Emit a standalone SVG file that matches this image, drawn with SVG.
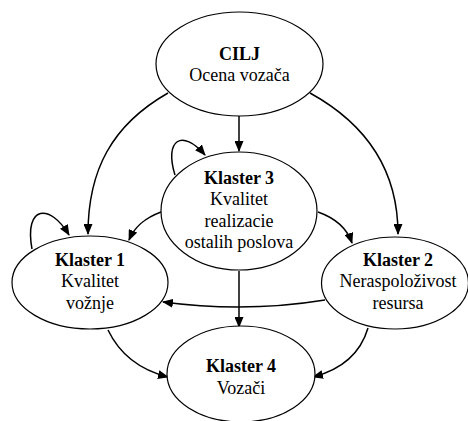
<svg xmlns="http://www.w3.org/2000/svg" width="468" height="421" viewBox="0 0 468 421">
<defs>
<marker id="ah" markerWidth="11" markerHeight="9" refX="10" refY="4.5" orient="auto" markerUnits="userSpaceOnUse">
<path d="M0,0 L11,4.5 L0,9 Z" fill="#000"/>
</marker>
<style>
.n ellipse{fill:#fff;stroke:#000;stroke-width:1.2}
.n text{font-family:"Liberation Serif","Times New Roman",serif;font-size:18px;text-anchor:middle;fill:#000}
.n .b{font-weight:bold}
.e path{fill:none;stroke:#000;stroke-width:1.5;marker-end:url(#ah)}
</style>
</defs>
<rect width="468" height="421" fill="#fff"/>
<g class="e" id="edges">
<path d="M239,116 L239,151"/>
<path d="M168,93 C112,125 88,170 88,234"/>
<path d="M310,93 C368,125 398,172 398,234"/>
<path d="M175,175 C164,140 182,128 205,155"/>
<path d="M32,249 C24,205 50,203 69,235"/>
<path d="M161,212 C145,218 135,226 129,240"/>
<path d="M318,212 C335,218 347,228 352,243"/>
<path d="M239,271 L239,327"/>
<path d="M325,300 Q245,313 163,302"/>
<path d="M108,330 C120,355 140,370 168,377"/>
<path d="M368,328 C360,355 340,370 313,377"/>
</g>
<g class="n" id="cilj">
<ellipse cx="239.5" cy="64" rx="83.5" ry="52"/>
<text x="239.5" y="60" class="b">CILJ</text>
<text x="239.5" y="81">Ocena vozača</text>
</g>
<g class="n" id="klaster3">
<ellipse cx="239" cy="211" rx="78" ry="59"/>
<text x="239" y="184" class="b">Klaster 3</text>
<text x="239" y="205">Kvalitet</text>
<text x="239" y="227">realizacie</text>
<text x="239" y="248">ostalih poslova</text>
</g>
<g class="n" id="klaster1">
<ellipse cx="90" cy="282.5" rx="78" ry="46.5"/>
<text x="90" y="266" class="b">Klaster 1</text>
<text x="90" y="287">Kvalitet</text>
<text x="90" y="309">vožnje</text>
</g>
<g class="n" id="klaster2">
<ellipse cx="395" cy="283" rx="73.5" ry="46"/>
<text x="398" y="266" class="b">Klaster 2</text>
<text x="398" y="287">Neraspoloživost</text>
<text x="398" y="309">resursa</text>
</g>
<g class="n" id="klaster4">
<ellipse cx="241" cy="374" rx="74" ry="48"/>
<text x="241" y="372" class="b">Klaster 4</text>
<text x="241" y="394">Vozači</text>
</g>
</svg>
